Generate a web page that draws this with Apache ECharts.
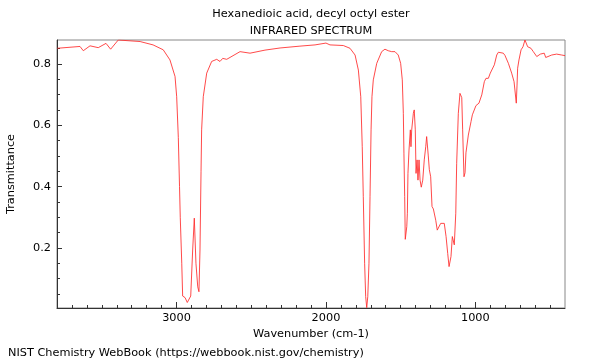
<!DOCTYPE html>
<html><head><meta charset="utf-8">
<script src="https://cdn.jsdelivr.net/npm/echarts@6/dist/echarts.min.js"></script>
<style>html,body{margin:0;padding:0;background:#fff}#c{width:600px;height:360px}</style>
</head><body><div id="c"></div>
<script>
const titleLines = ['Hexanedioic acid, decyl octyl ester', 'INFRARED SPECTRUM'];
const footerText = 'NIST Chemistry WebBook (https://webbook.nist.gov/chemistry)';
const xAxisName = 'Wavenumber (cm-1)';
const yAxisName = 'Transmittance';

const wavenumber = [
3798,3646,3624,3579,3524,3472,3441,3390,3244,3157,3089,3044,3010,2999,2988,2980,2975,2965,2959,2943,
2928,2915,2905,2892,2881,2874,2870,2863,2858,2850,2843,2836,2832,2821,2798,2765,2731,2709,2691,2664,
2575,2508,2408,2307,2174,2073,2000,1973,1884,1839,1805,1783,1767,1757,1750,1741,1734,1727,1720,1712,
1705,1698,1692,1683,1660,1627,1605,1583,1560,1538,1516,1500,1489,1482,1478,1473,1469,1459,1455,1451,
1444,1435,1431,1426,1415,1409,1402,1397,1390,1384,1377,1370,1362,1352,1342,1332,1326,1315,1308,1299,
1290,1281,1275,1265,1255,1243,1232,1221,1208,1196,1185,1176,1170,1163,1154,1148,1141,1131,1125,1114,
1103,1098,1091,1085,1076,1069,1063,1047,1029,1020,1007,996,984,976,957,940,929,913,900,887,
873,857,846,833,813,802,779,757,741,733,726,721,717,708,694,681,668,661,650,628,
612,589,579,565,552,539,529,516,489,456,422,400
];
const transmittance = [
0.851,0.857,0.843,0.859,0.853,0.867,0.848,0.878,0.873,0.862,0.846,0.813,0.759,0.693,0.56,0.40,0.30,0.15,0.043,0.038,
0.022,0.020,0.043,0.193,0.297,0.291,0.15,0.144,0.073,0.057,0.193,0.45,0.585,0.693,0.770,0.808,0.815,0.808,0.818,0.815,
0.840,0.835,0.845,0.852,0.858,0.862,0.868,0.862,0.860,0.851,0.829,0.780,0.693,0.530,0.367,0.150,0.041,0.005,0.041,0.150,
0.367,0.585,0.693,0.748,0.802,0.840,0.848,0.843,0.840,0.840,0.829,0.802,0.748,0.639,0.509,0.367,0.228,0.269,0.313,0.443,
0.519,0.585,0.530,0.585,0.639,0.650,0.585,0.443,0.487,0.421,0.487,0.421,0.398,0.421,0.487,0.530,0.563,0.500,0.455,0.432,
0.335,0.327,0.327,0.290,0.258,0.253,0.280,0.286,0.280,0.237,0.182,0.139,0.134,0.172,0.237,0.237,0.210,0.313,0.476,0.639,
0.704,0.710,0.690,0.585,0.432,0.445,0.510,0.568,0.612,0.634,0.638,0.664,0.658,0.672,0.699,0.742,0.753,0.753,0.770,0.775,
0.797,0.829,0.838,0.835,0.835,0.828,0.802,0.770,0.742,0.737,0.672,0.731,0.786,0.813,0.846,0.856,0.878,0.872,0.856,0.851,
0.840,0.824,0.821,0.832,0.838,0.835,0.821,0.827,0.829,0.832,0.829,0.827
];

const xMajorTicks = [1000, 2000, 3000];
const xMinorTicks = [500,600,700,800,900,1100,1200,1300,1400,1500,1600,1700,1800,1900,2100,2200,2300,2400,2500,2600,2700,2800,2900,3100,3200,3300,3400,3500,3600,3700];
const yMajorTicks = [0.2, 0.4, 0.6, 0.8];
const yMinorTicks = [0.05,0.1,0.15,0.25,0.3,0.35,0.45,0.5,0.55,0.65,0.7,0.75,0.85];
const xRange = [400, 3800];
const yRange = [0.004, 0.878];

const FONT = 'DejaVu Sans';
const FS = 11.3;
const points = wavenumber.map((w, i) => [w, transmittance[i]]);

const chart = echarts.init(document.getElementById('c'), null, {renderer: 'canvas'});
const baseX = {
  type: 'value', inverse: true, min: xRange[0], max: xRange[1], gridIndex: 0, position: 'bottom',
  splitLine: {show: false}
};
const baseY = {
  type: 'value', min: yRange[0], max: yRange[1], gridIndex: 0, position: 'left',
  splitLine: {show: false}
};
chart.setOption({
  animation: false,
  backgroundColor: '#fff',
  title: [
    {text: titleLines.join('\n'), left: 306, top: 1, textAlign: 'center',
     textStyle: {fontFamily: FONT, fontSize: FS, fontWeight: 'normal', color: '#000', lineHeight: 17}},
    {text: footerText, left: 3, top: 343,
     textStyle: {fontFamily: FONT, fontSize: FS, fontWeight: 'normal', color: '#000'}}
  ],
  grid: {left: 57, right: 35, top: 40, bottom: 52, containLabel: false, outerBoundsMode: 'none',
    show: true, borderColor: '#888', borderWidth: 1, backgroundColor: 'transparent'},
  xAxis: [
    Object.assign({}, baseX, {
      name: xAxisName, nameLocation: 'middle', nameGap: 17,
      nameTextStyle: {fontFamily: FONT, fontSize: FS, color: '#000'},
      axisLine: {show: true, lineStyle: {color: '#333', width: 1}},
      axisTick: {show: true, inside: true, length: 6, customValues: xMajorTicks, lineStyle: {color: '#333'}},
      axisLabel: {show: true, customValues: xMajorTicks, margin: 5, fontFamily: FONT, fontSize: FS, color: '#000',
        formatter: v => String(v)}
    }),
    Object.assign({}, baseX, {
      axisLine: {show: false},
      axisTick: {show: true, inside: true, length: 3, customValues: xMinorTicks, lineStyle: {color: '#333'}},
      axisLabel: {show: false}
    })
  ],
  yAxis: [
    Object.assign({}, baseY, {
      name: yAxisName, nameLocation: 'middle', nameGap: 40, nameRotate: 90,
      nameTextStyle: {fontFamily: FONT, fontSize: FS, color: '#000'},
      axisLine: {show: true, lineStyle: {color: '#333', width: 1}},
      axisTick: {show: true, inside: true, length: 5, customValues: yMajorTicks, lineStyle: {color: '#333'}},
      axisLabel: {show: true, customValues: yMajorTicks, margin: 6, fontFamily: FONT, fontSize: FS, color: '#000',
        formatter: v => v.toFixed(1)}
    }),
    Object.assign({}, baseY, {
      axisLine: {show: false},
      axisTick: {show: true, inside: true, length: 3, customValues: yMinorTicks, lineStyle: {color: '#333'}},
      axisLabel: {show: false}
    })
  ],
  series: [{
    type: 'line', xAxisIndex: 0, yAxisIndex: 0, data: points,
    showSymbol: false, symbol: 'none', smooth: false,
    lineStyle: {color: '#ff2a2a', width: 1, opacity: 0.85}
  }]
});
</script></body></html>
